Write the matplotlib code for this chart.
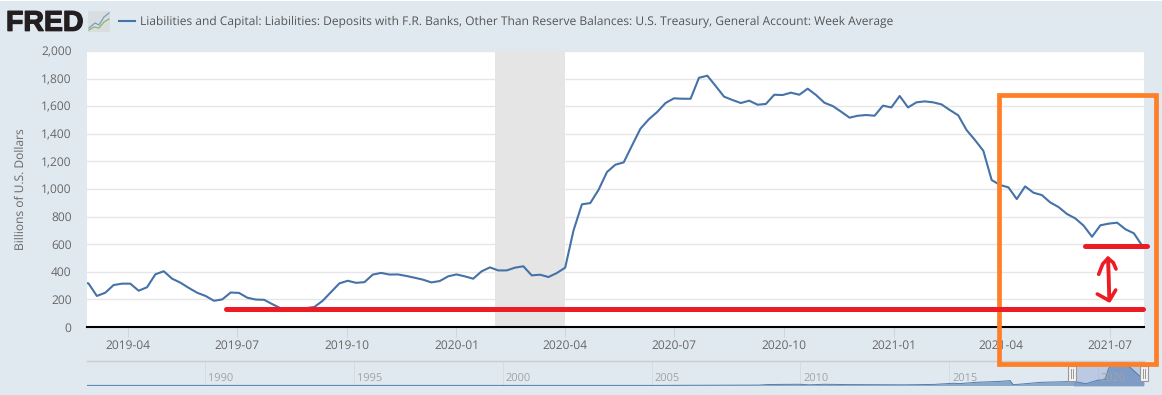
import numpy as np
import matplotlib
matplotlib.use("Agg")
import matplotlib.pyplot as plt
import matplotlib.dates as mdates
import matplotlib.patheffects as pe
from matplotlib.patches import Rectangle
from matplotlib.ticker import FuncFormatter, FixedLocator

# --- data ---
last_week = np.datetime64("2021-07-28")
treasury_values = [
    325, 316, 225, 248, 304, 314, 314, 263, 288, 382, 404, 350, 321, 283, 248, 225, 190, 200, 250, 247,
    212, 199, 197, 165, 135, 125, 122, 137, 145, 190, 253, 316, 335, 320, 325, 380, 392, 380,
    381, 370, 357, 343, 323, 333, 367, 381, 367, 350, 403, 432, 410, 410, 430, 440, 374, 379, 362, 391,
    430, 700, 889, 898, 995, 1123, 1176, 1193, 1316, 1437, 1505, 1558, 1623, 1657, 1654, 1654,
    1806, 1821, 1746, 1669, 1645, 1623, 1640, 1611, 1616, 1683, 1681, 1698, 1683, 1727, 1681, 1625,
    1601, 1560, 1517, 1531, 1536, 1531, 1604, 1591, 1674, 1591, 1628, 1635, 1628, 1613, 1572, 1534,
    1427, 1355, 1277, 1065, 1029, 1012, 927, 1019, 973, 956, 903, 869, 819, 787, 734, 654, 737, 749,
    756, 708, 679, 589,
]
y_ticks = [0, 200, 400, 600, 800, 1000, 1200, 1400, 1600, 1800, 2000]
recession = ("2020-02-02", "2020-04-01")
title = ("Liabilities and Capital: Liabilities: Deposits with F.R. Banks, Other Than Reserve "
         "Balances: U.S. Treasury, General Account: Week Average")
y_label = "Billions of U.S. Dollars"

nav_years = [1986.03, 1990, 1995, 2000, 2005, 2008.6, 2008.9, 2009.3, 2010.0, 2010.3, 2010.8, 2011.5, 2012.5,
             2013.5, 2014.5, 2015.13, 2015.37, 2015.94, 2016.7, 2017.05, 2017.15, 2017.4, 2018.06, 2019.07,
             2019.2, 2019.6, 2020.0, 2020.25, 2020.35, 2020.55, 2020.9, 2021.15, 2021.4, 2021.55]
nav_values = [8, 8, 8, 8, 8, 30, 70, 80, 90, 50, 90, 70, 60, 50, 80, 165, 140, 240, 300, 360, 60, 100, 230, 290,
              300, 130, 390, 430, 1200, 1800, 1700, 1200, 700, 600]
nav_labels = [1990, 1995, 2000, 2005, 2010, 2015, 2020]

BG = "#E1E9F0"
W, H = 1162, 395
plt.rcParams["font.family"] = ["Open Sans", "DejaVu Sans"]
plt.rcParams["text.hinting"] = "no_hinting"
plt.rcParams["text.hinting_factor"] = 1

fig = plt.figure(figsize=(W / 100, H / 100), dpi=100, facecolor=BG)


def box(l, t, r, b):
    return [l / W, 1 - b / H, (r - l) / W, (b - t) / H]


# --- main plot ---
ax = fig.add_axes(box(87, 51, 1144, 327))
dates = last_week - np.arange(len(treasury_values))[::-1] * np.timedelta64(7, "D")
ax.axvspan(np.datetime64(recession[0]), np.datetime64(recession[1]), color="#E5E5E5", lw=0, zorder=1)
ax.plot(dates, treasury_values, color="#4572A7", lw=1.5, zorder=3, solid_joinstyle="round")
ax.set_xlim(np.datetime64("2019-02-25T18"), np.datetime64("2021-07-29T12"))
ax.set_ylim(0, 2000)
ax.yaxis.set_major_locator(FixedLocator(y_ticks))
ax.yaxis.set_major_formatter(FuncFormatter(lambda v, p: f"{int(v):,}"))
ax.xaxis.set_major_locator(mdates.MonthLocator(bymonth=[1, 4, 7, 10]))
ax.xaxis.set_major_formatter(mdates.DateFormatter("%Y-%m"))
ax.grid(axis="y", color="#E6E6E6", lw=1.0, zorder=2)
ax.set_axisbelow(True)
for s in ("top", "right", "left"):
    ax.spines[s].set_visible(False)
ax.spines["bottom"].set_color("black")
ax.spines["bottom"].set_linewidth(1.5)
ax.tick_params(axis="y", length=0, pad=11, labelsize=8.3, labelcolor="#666666")
ax.tick_params(axis="x", length=7, width=0.8, color="#CCD6EB", pad=2, labelsize=8.3, labelcolor="#666666")
ax.set_ylabel(y_label, fontsize=8.3, color="#666666", labelpad=0)
ax.yaxis.set_label_coords(-60 / 1057, 0.5)

# --- navigator ---
nav = fig.add_axes(box(87, 361, 1144, 385.5), facecolor="none")
nav.set_xlim(1986.03, 2021.55)
nav.set_ylim(0, 1800)
nav.fill_between(nav_years, nav_values, color="#4572A7", alpha=0.55, lw=0)
nav.plot(nav_years, nav_values, color="#4572A7", lw=0.7, alpha=0.9)
nav.axvspan(2019.2, 2021.55, ymin=-0.06, color="#6685C2", alpha=0.3, lw=0, clip_on=False)
for y in nav_labels:
    nav.axvline(y, color="#D5DCE3", lw=0.7, zorder=0)
    nav.text(y + 0.1, 0.27, str(y), transform=nav.get_xaxis_transform(), fontsize=8, color="#A3A3A3",
             va="center", ha="left")
nav.set_xticks([])
nav.set_yticks([])
for s in ("left", "right", "bottom"):
    nav.spines[s].set_visible(False)
nav.spines["top"].set_color("#CCCCCC")
nav.spines["top"].set_linewidth(1.0)

# --- overlay: header and hand-drawn marks (page pixel coordinates) ---
ov = fig.add_axes([0, 0, 1, 1], facecolor="none", zorder=10)
ov.set_xlim(0, W)
ov.set_ylim(H, 0)
ov.axis("off")

ov.add_patch(Rectangle((0, 0), W, 1.2, color="white", lw=0))
ov.text(6, 23.5, "FRED", fontsize=20.5, fontweight="bold", family="Liberation Sans", color="#231F20",
        va="center", ha="left", path_effects=[pe.withStroke(linewidth=0.9, foreground="#231F20")])
ov.add_patch(Rectangle((88, 11), 22, 21, color="#D8DEE0", lw=0))
ov.plot([89, 95, 99, 104, 109], [28, 23, 25, 17, 13], color="#7C9CC0", lw=0.9)
ov.plot([89, 94, 99, 104, 109], [30, 27, 28, 22, 19], color="#8FB26B", lw=0.9)
ov.plot([119, 135], [21, 21], color="#4572A7", lw=1.5)
ov.text(140, 21.5, title, fontsize=8.65, color="#555555", va="center", ha="left")

for hx in (1072, 1144):
    ov.add_patch(Rectangle((hx - 4, 366), 8, 15, fc="#F2F2F2", ec="#999999", lw=0.8))
    ov.plot([hx - 1.2, hx - 1.2], [369, 378], color="#999999", lw=0.7)
    ov.plot([hx + 1.2, hx + 1.2], [369, 378], color="#999999", lw=0.7)

ov.add_patch(Rectangle((999.3, 95.3), 156.5, 268.5, fc="none", ec="#FF7F27", lw=3.4, joinstyle="miter"))

RED = "#ED1C24"
ov.plot([226, 1143], [309.3, 309.3], color=RED, lw=3.6, solid_capstyle="round")
ov.plot([1085, 1147], [246.3, 246.3], color=RED, lw=3.6, solid_capstyle="round")
ov.plot([1098.7, 1102.7, 1108, 1113.3, 1116], [274.3, 264, 258.3, 262.7, 269], color=RED, lw=2.6,
        solid_capstyle="round", solid_joinstyle="round")
ov.plot([1108, 1108.7, 1109.3], [258.3, 276.7, 300], color=RED, lw=2.8, solid_capstyle="round")
ov.plot([1097.3, 1109.3, 1115.7], [294, 300.7, 290], color=RED, lw=2.6, solid_capstyle="round",
        solid_joinstyle="round")

fig.savefig("out.png", dpi=100, facecolor=BG)
